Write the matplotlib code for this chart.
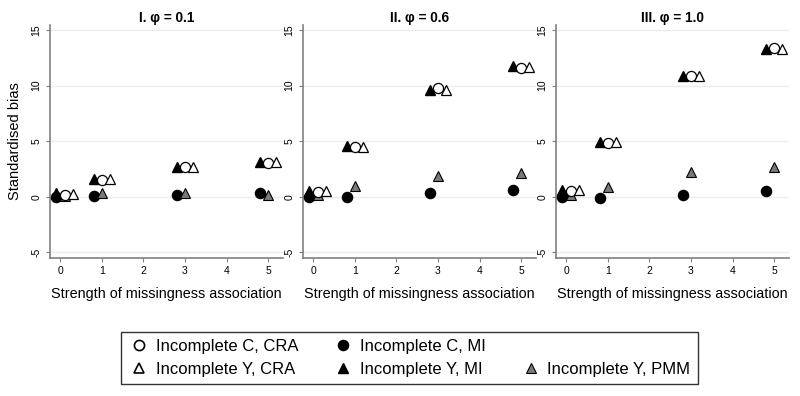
import numpy as np
import matplotlib.pyplot as plt
from matplotlib.lines import Line2D

plt.rcParams['font.family'] = ['Liberation Sans', 'DejaVu Sans']

# strength of missingness association (first category plotted at 0.1)
strength = [0.1, 1, 3, 5]
titles = ["I. \u03c6 = 0.1", "II. \u03c6 = 0.6", "III. \u03c6 = 1.0"]

# standardised bias, one list per panel
c_cra = [[0.15, 1.5, 2.7, 3.0],
         [0.4, 4.5, 9.8, 11.6],
         [0.5, 4.8, 10.9, 13.4]]
c_mi = [[0.0, 0.1, 0.2, 0.3],
        [0.0, 0.0, 0.3, 0.6],
        [0.0, -0.1, 0.15, 0.5]]
y_cra = [[0.25, 1.6, 2.7, 3.1],
         [0.5, 4.5, 9.6, 11.7],
         [0.6, 4.9, 10.9, 13.3]]
y_mi = [[0.3, 1.6, 2.7, 3.1],
        [0.5, 4.6, 9.6, 11.8],
        [0.6, 4.9, 10.9, 13.3]]
y_pmm = [[0.1, 0.3, 0.3, 0.2],
         [0.15, 1.0, 1.9, 2.1],
         [0.15, 0.9, 2.2, 2.7]]

fig = plt.figure(figsize=(8, 3.96), dpi=100)
lefts = [50, 303, 556]
x = np.array(strength)
ms = 7.3
spine_col = '#808080'

for i in range(3):
    ax = fig.add_axes([lefts[i] / 800, 1 - 258 / 396, 233 / 800, 233 / 396])
    for yv in [-5, 0, 5, 10, 15]:
        ax.axhline(yv, color='#ececec', lw=1, zorder=0)
    ax.plot(x - 0.2, c_mi[i], 'o', ms=ms, mfc='black', mec='black', zorder=3)
    ax.plot(x - 0.2, y_mi[i], '^', ms=ms, mfc='black', mec='black', zorder=3)
    ax.plot(x, y_pmm[i], '^', ms=ms, mfc='#7a7a7a', mec='black', mew=0.8, zorder=3)
    ax.plot(x, c_cra[i], 'o', ms=ms, mfc='white', mec='black', mew=0.9, zorder=4)
    ax.plot(x + 0.2, y_cra[i], '^', ms=ms, mfc='white', mec='black', mew=0.9, zorder=4)
    ax.set_xlim(-0.25, 5.36)
    ax.set_ylim(-5.5, 15.45)
    ax.set_xticks([0, 1, 2, 3, 4, 5])
    ax.set_yticks([-5, 0, 5, 10, 15])
    ax.set_yticklabels(['-5', '0', '5', '10', '15'], rotation=90, va='center')
    ax.tick_params(labelsize=7.5, length=3, color=spine_col, pad=3)
    for s in ['top', 'right']:
        ax.spines[s].set_visible(False)
    for s in ['left', 'bottom']:
        ax.spines[s].set_color(spine_col)
        ax.spines[s].set_linewidth(1.2)
    ax.set_title(titles[i], fontsize=9.8, fontweight='bold', pad=2)
    ax.set_xlabel("Strength of missingness association", fontsize=10.4, labelpad=8)
    if i == 0:
        ax.set_ylabel("Standardised bias", fontsize=10.5, labelpad=7)

h_c_cra = Line2D([], [], ls='none', marker='o', ms=ms, mfc='white', mec='black', mew=1.2)
h_y_cra = Line2D([], [], ls='none', marker='^', ms=ms, mfc='white', mec='black', mew=1.2)
h_c_mi = Line2D([], [], ls='none', marker='o', ms=ms, mfc='black', mec='black')
h_y_mi = Line2D([], [], ls='none', marker='^', ms=ms, mfc='black', mec='black')
h_blank = Line2D([], [], ls='none', marker='')
h_y_pmm = Line2D([], [], ls='none', marker='^', ms=ms, mfc='#7a7a7a', mec='black', mew=0.8)

leg = fig.legend([h_c_cra, h_y_cra, h_c_mi, h_y_mi, h_blank, h_y_pmm],
                 ["Incomplete C, CRA", "Incomplete Y, CRA", "Incomplete C, MI",
                  "Incomplete Y, MI", "", "Incomplete Y, PMM"],
                 ncol=3, loc='center', bbox_to_anchor=(0.512, 0.096),
                 fontsize=12, frameon=True, fancybox=False, edgecolor='black',
                 handletextpad=0.4, columnspacing=2.1, labelspacing=0.45,
                 borderpad=0.45, handlelength=1.2)
leg.get_frame().set_linewidth(1.0)

fig.savefig('out.png', dpi=100)
